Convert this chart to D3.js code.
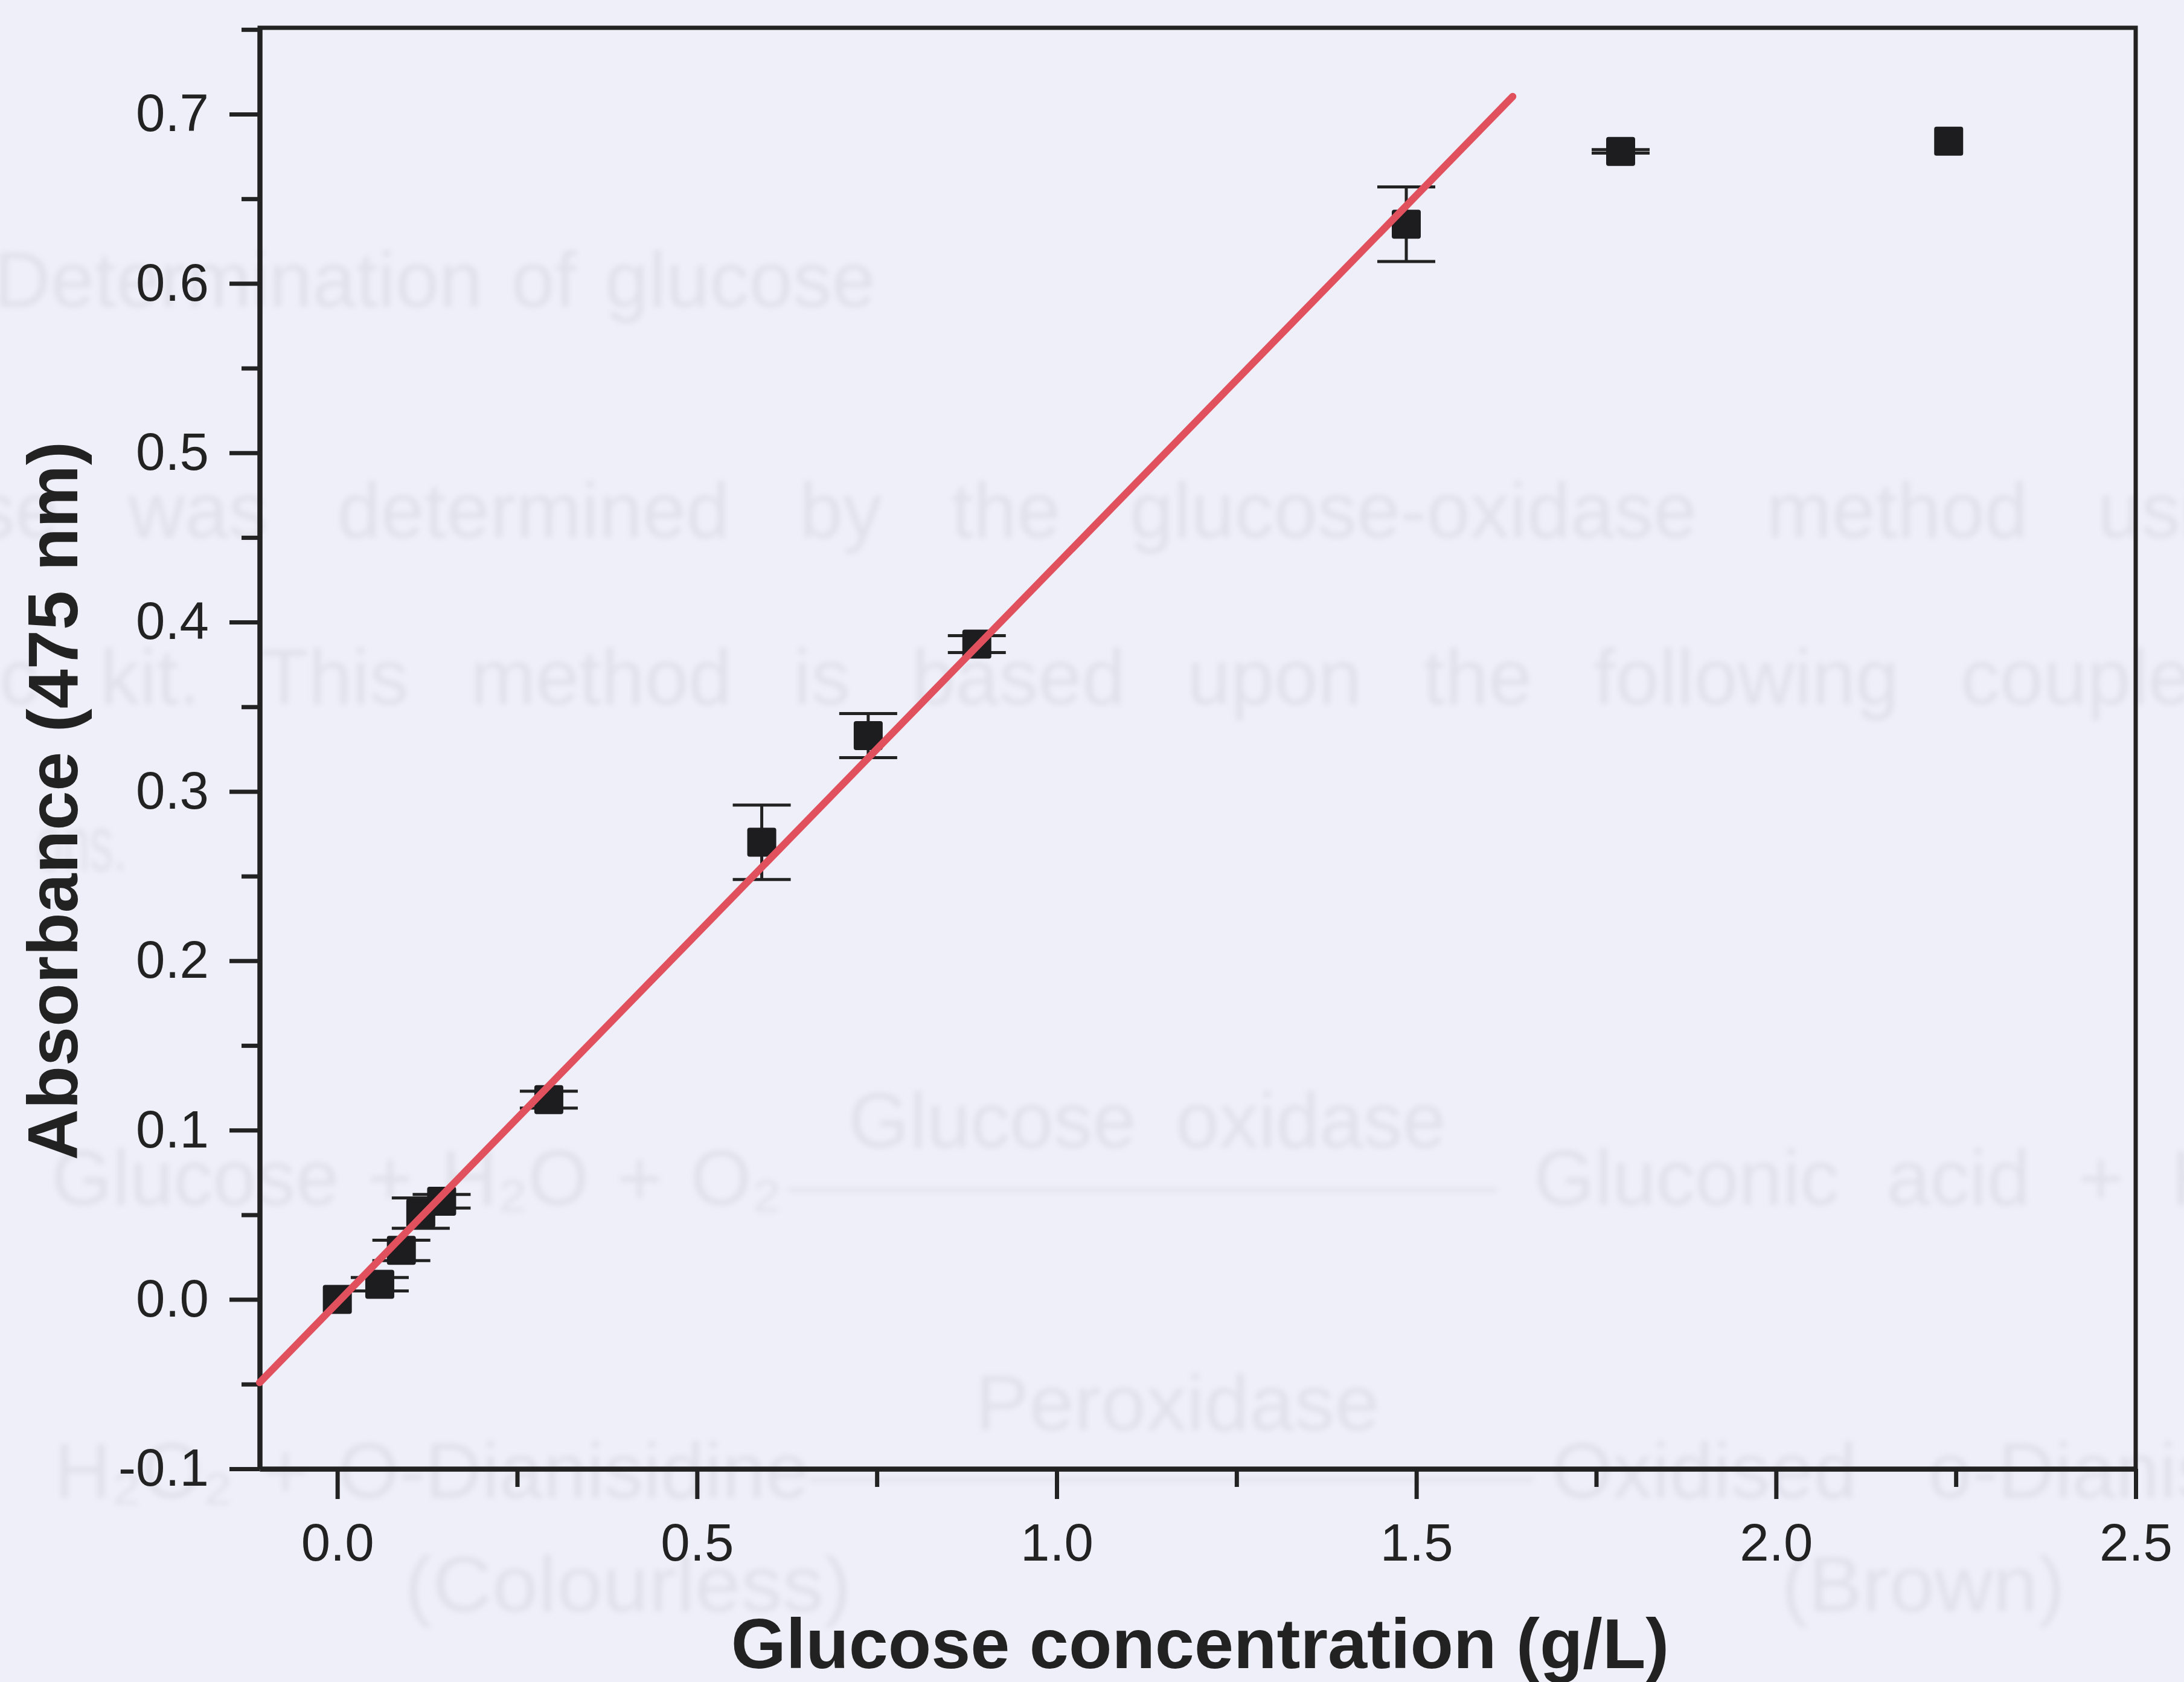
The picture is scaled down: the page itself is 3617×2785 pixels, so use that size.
<!DOCTYPE html>
<html lang="en">
<head>
<meta charset="UTF-8">
<title>Glucose calibration</title>
<script src="https://cdn.jsdelivr.net/npm/d3@7"></script>
<style>
  body { margin: 0; background: #efeff9; }
  svg { display: block; }
  text { font-family: "Liberation Sans", Arial, sans-serif; }
</style>
</head>
<body>
<script>
// measured points (glucose g/L vs absorbance at 475 nm)
var conc   = [0, 0.059, 0.089, 0.116, 0.145, 0.294, 0.590, 0.738, 0.889, 1.486, 1.784, 2.240];
var absorb = [0.000, 0.009, 0.029, 0.051, 0.058, 0.118, 0.270, 0.333, 0.387, 0.635, 0.678, 0.684];
var absErr = [0, 0.004, 0.006, 0.009, 0.004, 0.005, 0.022, 0.013, 0.005, 0.022, 0.001, 0];

// linear fit drawn in red
var fitSlope = 0.436;
var fitIntercept = -0.002;
var fitFrom = -0.108, fitTo = 1.634;

var xTicks = [0, 0.5, 1.0, 1.5, 2.0, 2.5];
var xMinor = [0.25, 0.75, 1.25, 1.75, 2.25];
var yTicks = [-0.1, 0, 0.1, 0.2, 0.3, 0.4, 0.5, 0.6, 0.7];
var yMinor = [-0.05, 0.05, 0.15, 0.25, 0.35, 0.45, 0.55, 0.65, 0.75];

var xTitle = "Glucose concentration (g/L)";
var yTitle = "Absorbance (475 nm)";

// faint text from the page showing through the scan
var pageText = [
  {t: "Determination of glucose", x: -10, y: 508, w: 1460},
  {t: "se was determined by the glucose-oxidase method usi", x: -40, y: 890, w: 3680},
  {t: "ic kit. This method is based upon the following couple", x: -30, y: 1166, w: 3660},
  {t: "ons.", x: 60, y: 1442, w: 150},
  {t: "Glucose oxidase", x: 1405, y: 1900, w: 990},
  {t: "Glucose + H\u2082O + O\u2082", x: 85, y: 1995, w: 1210},
  {t: "Gluconic acid + H", x: 2540, y: 1995, w: 1150},
  {t: "Peroxidase", x: 1615, y: 2368, w: 670},
  {t: "H\u2082O\u2082 + O-Dianisidine", x: 90, y: 2480, w: 1250},
  {t: "Oxidised o-Dianis", x: 2570, y: 2480, w: 1100},
  {t: "(Colourless)", x: 670, y: 2668, w: 740},
  {t: "(Brown)", x: 2950, y: 2668, w: 470}
];
var pageArrows = [[1305, 1970, 2480], [1340, 2450, 2540]];

var W = 3617, H = 2785;
var svg = d3.select("body").append("svg")
  .attr("width", W)
  .attr("height", H);

svg.append("rect").attr("width", W).attr("height", H).attr("fill", "#efeff9");

var defs = svg.append("defs");
defs.append("filter").attr("id", "soft")
  .append("feGaussianBlur").attr("stdDeviation", 5);

var ghostCol = "#e1e1ec";
var ghost = svg.append("g").attr("filter", "url(#soft)").attr("fill", ghostCol);
ghost.selectAll("text")
  .data(pageText)
  .enter()
  .append("text")
  .attr("x", function(d) { return d.x; })
  .attr("y", function(d) { return d.y; })
  .attr("font-size", 130)
  .text(function(d) { return d.t; })
  .each(function(d) {
    // spread the words like justified print
    var len = this.getComputedTextLength();
    var gaps = d.t.split(" ").length - 1;
    if (gaps > 0 && d.w > len) d3.select(this).attr("word-spacing", (d.w - len) / gaps);
    else d3.select(this).attr("textLength", d.w).attr("lengthAdjust", "spacingAndGlyphs");
  });
ghost.selectAll("line")
  .data(pageArrows)
  .enter()
  .append("line")
  .attr("x1", function(d) { return d[0]; })
  .attr("x2", function(d) { return d[2]; })
  .attr("y1", function(d) { return d[1]; })
  .attr("y2", function(d) { return d[1]; })
  .attr("stroke", ghostCol)
  .attr("stroke-width", 6);

var xScale = d3.scaleLinear().domain([-0.108, 2.5]).range([430, 3537]);
var yScale = d3.scaleLinear().domain([-0.1, 0.751]).range([2432, 46]);

var fmt = function(d) { return d.toFixed(1); };
var ink = "#222222";

// minor ticks first
var yMin = svg.append("g")
  .attr("transform", "translate(" + xScale.range()[0] + ",0)")
  .call(d3.axisLeft(yScale).tickValues(yMinor).tickSize(30).tickSizeOuter(0).tickFormat(""));
var xMin = svg.append("g")
  .attr("transform", "translate(0," + yScale.range()[0] + ")")
  .call(d3.axisBottom(xScale).tickValues(xMinor).tickSize(30).tickSizeOuter(0).tickFormat(""));

var yAxis = svg.append("g")
  .attr("transform", "translate(" + xScale.range()[0] + ",0)")
  .call(d3.axisLeft(yScale).tickValues(yTicks).tickSize(50).tickSizeOuter(0).tickPadding(34).tickFormat(fmt));
var xAxis = svg.append("g")
  .attr("transform", "translate(0," + yScale.range()[0] + ")")
  .call(d3.axisBottom(xScale).tickValues(xTicks).tickSize(50).tickSizeOuter(0).tickPadding(40).tickFormat(fmt));

[yMin, xMin, yAxis, xAxis].forEach(function(g) {
  g.select(".domain").attr("stroke", ink).attr("stroke-width", 8);
  g.selectAll(".tick line").attr("stroke", ink).attr("stroke-width", 7);
  g.selectAll(".tick text")
    .attr("fill", ink)
    .attr("font-size", 87)
    .attr("font-family", "'Liberation Sans', Arial, sans-serif");
});

// top and right frame
svg.append("path")
  .attr("d", "M" + xScale.range()[0] + "," + yScale.range()[1] +
             "H" + xScale.range()[1] + "V" + yScale.range()[0])
  .attr("fill", "none")
  .attr("stroke", ink)
  .attr("stroke-width", 7)
  .attr("stroke-linecap", "square");

// error bars
var capW = 96;
var eb = svg.append("g").attr("stroke", ink).attr("stroke-width", 5);
conc.forEach(function(c, i) {
  if (!absErr[i]) return;
  var cx = xScale(c);
  var y1 = yScale(absorb[i] + absErr[i]), y2 = yScale(absorb[i] - absErr[i]);
  eb.append("line").attr("x1", cx).attr("x2", cx).attr("y1", y1).attr("y2", y2);
  eb.append("line").attr("x1", cx - capW / 2).attr("x2", cx + capW / 2).attr("y1", y1).attr("y2", y1);
  eb.append("line").attr("x1", cx - capW / 2).attr("x2", cx + capW / 2).attr("y1", y2).attr("y2", y2);
});

// square markers
var sq = 48;
svg.append("g").selectAll("rect")
  .data(conc)
  .enter()
  .append("rect")
  .attr("x", function(d) { return xScale(d) - sq / 2; })
  .attr("y", function(d, i) { return yScale(absorb[i]) - sq / 2; })
  .attr("width", sq)
  .attr("height", sq)
  .attr("rx", 4)
  .attr("fill", "#1d1d1f");

// fit line
svg.append("line")
  .attr("x1", xScale(fitFrom))
  .attr("y1", yScale(fitSlope * fitFrom + fitIntercept))
  .attr("x2", xScale(fitTo))
  .attr("y2", yScale(fitSlope * fitTo + fitIntercept))
  .attr("stroke", "#e0505d")
  .attr("stroke-width", 12)
  .attr("stroke-linecap", "round");

// axis titles
svg.append("text")
  .attr("x", (xScale.range()[0] + xScale.range()[1]) / 2 + 4)
  .attr("y", 2762)
  .attr("text-anchor", "middle")
  .attr("font-size", 117)
  .attr("font-weight", "bold")
  .attr("fill", ink)
  .text(xTitle);

svg.append("text")
  .attr("transform", "translate(128,1326) rotate(-90)")
  .attr("text-anchor", "middle")
  .attr("font-size", 117)
  .attr("font-weight", "bold")
  .attr("fill", ink)
  .text(yTitle);
</script>
</body>
</html>
